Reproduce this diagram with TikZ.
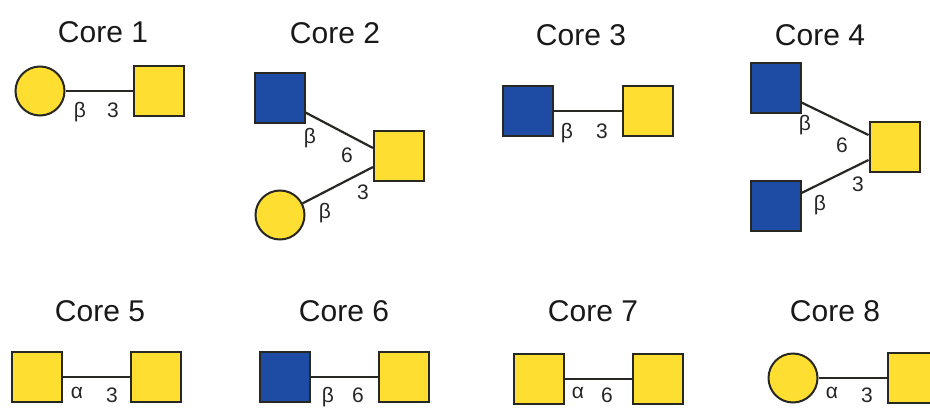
\documentclass[tikz,border=0pt]{standalone}
\usepackage{fontspec}
\setmainfont{Liberation Sans}
\definecolor{galY}{RGB}{255,222,50}
\definecolor{glcB}{RGB}{30,76,165}
\definecolor{edgeK}{RGB}{40,40,35}
\begin{document}
\begin{tikzpicture}[x=1pt,y=-1pt,
  sq/.style={rectangle,draw=edgeK,line width=2pt,minimum size=50pt,inner sep=0pt},
  ysq/.style={sq,fill=galY},
  bsq/.style={sq,fill=glcB},
  ycirc/.style={circle,draw=edgeK,line width=2pt,fill=galY,minimum size=49pt,inner sep=0pt},
  title/.style={anchor=base,font=\fontsize{30}{30}\selectfont,text=black!90},
  lbl/.style={font=\fontsize{21}{21}\selectfont,text=black!85,inner sep=0pt},
  bond/.style={draw=edgeK,line width=2.2pt}]
\useasboundingbox (0,0) rectangle (930,410);
\fill[white] (0,0) rectangle (930,410);
\clip (0,0) rectangle (930,410);
% Core 1
\node[title] (t1) at (103,42) {Core 1};
\node[ycirc] (c1a) at (40,91) {};
\node[ysq] (c1b) at (158.5,91) {};
\draw[bond] (c1a) -- (c1b);
\node[lbl] (l1a) at (80,112) {β};
\node[lbl] (l1b) at (113,110) {3};
% Core 2
\node[title] (t2) at (335,43) {Core 2};
\node[bsq] (c2a) at (279.5,97.5) {};
\node[ysq] (c2c) at (399,156) {};
\node[ycirc] (c2b) at (280,215) {};
\draw[bond] ([yshift=11pt]c2a.south east) -- ([yshift=8pt]c2c.west);
\draw[bond] (c2b) -- ([yshift=-11pt]c2c.west);
\node[lbl] (l2a) at (310,138) {β};
\node[lbl] (l2b) at (347,155) {6};
\node[lbl] (l2c) at (363,192) {3};
\node[lbl] (l2d) at (325,213) {β};
% Core 3
\node[title] (t3) at (581,45) {Core 3};
\node[bsq] (c3a) at (527.5,111) {};
\node[ysq] (c3b) at (647.5,111) {};
\draw[bond] (c3a) -- (c3b);
\node[lbl] (l3a) at (567,133) {β};
\node[lbl] (l3b) at (602,131) {3};
% Core 4
\node[title] (t4) at (820,45) {Core 4};
\node[bsq] (c4a) at (775.5,87.5) {};
\node[ysq] (c4c) at (894.5,147) {};
\node[bsq] (c4b) at (775.5,206) {};
\draw[bond] ([yshift=11pt]c4a.south east) -- ([yshift=12pt]c4c.west);
\draw[bond] ([yshift=-13pt]c4b.north east) -- ([yshift=-13pt]c4c.west);
\node[lbl] (l4a) at (805,125) {β};
\node[lbl] (l4b) at (842,145) {6};
\node[lbl] (l4c) at (858,184) {3};
\node[lbl] (l4d) at (820,205) {β};
% Core 5
\node[title] (t5) at (100,321) {Core 5};
\node[ysq] (c5a) at (36.5,377) {};
\node[ysq] (c5b) at (156,377) {};
\draw[bond] (c5a) -- (c5b);
\node[lbl] (l5a) at (77,393) {α};
\node[lbl] (l5b) at (112,395) {3};
% Core 6
\node[title] (t6) at (344,321) {Core 6};
\node[bsq] (c6a) at (285,377) {};
\node[ysq] (c6b) at (404,377) {};
\draw[bond] (c6a) -- (c6b);
\node[lbl] (l6a) at (328,397) {β};
\node[lbl] (l6b) at (358,395) {6};
% Core 7
\node[title] (t7) at (593,321) {Core 7};
\node[ysq] (c7a) at (539,379) {};
\node[ysq] (c7b) at (658,379) {};
\draw[bond] (c7a) -- (c7b);
\node[lbl] (l7a) at (578,393) {α};
\node[lbl] (l7b) at (607,395) {6};
% Core 8
\node[title] (t8) at (835,321) {Core 8};
\node[ycirc] (c8a) at (793,378) {};
\node[ysq] (c8b) at (912.5,378) {};
\draw[bond] (c8a) -- (c8b);
\node[lbl] (l8a) at (832,393) {α};
\node[lbl] (l8b) at (867,395) {3};
\end{tikzpicture}
\end{document}
